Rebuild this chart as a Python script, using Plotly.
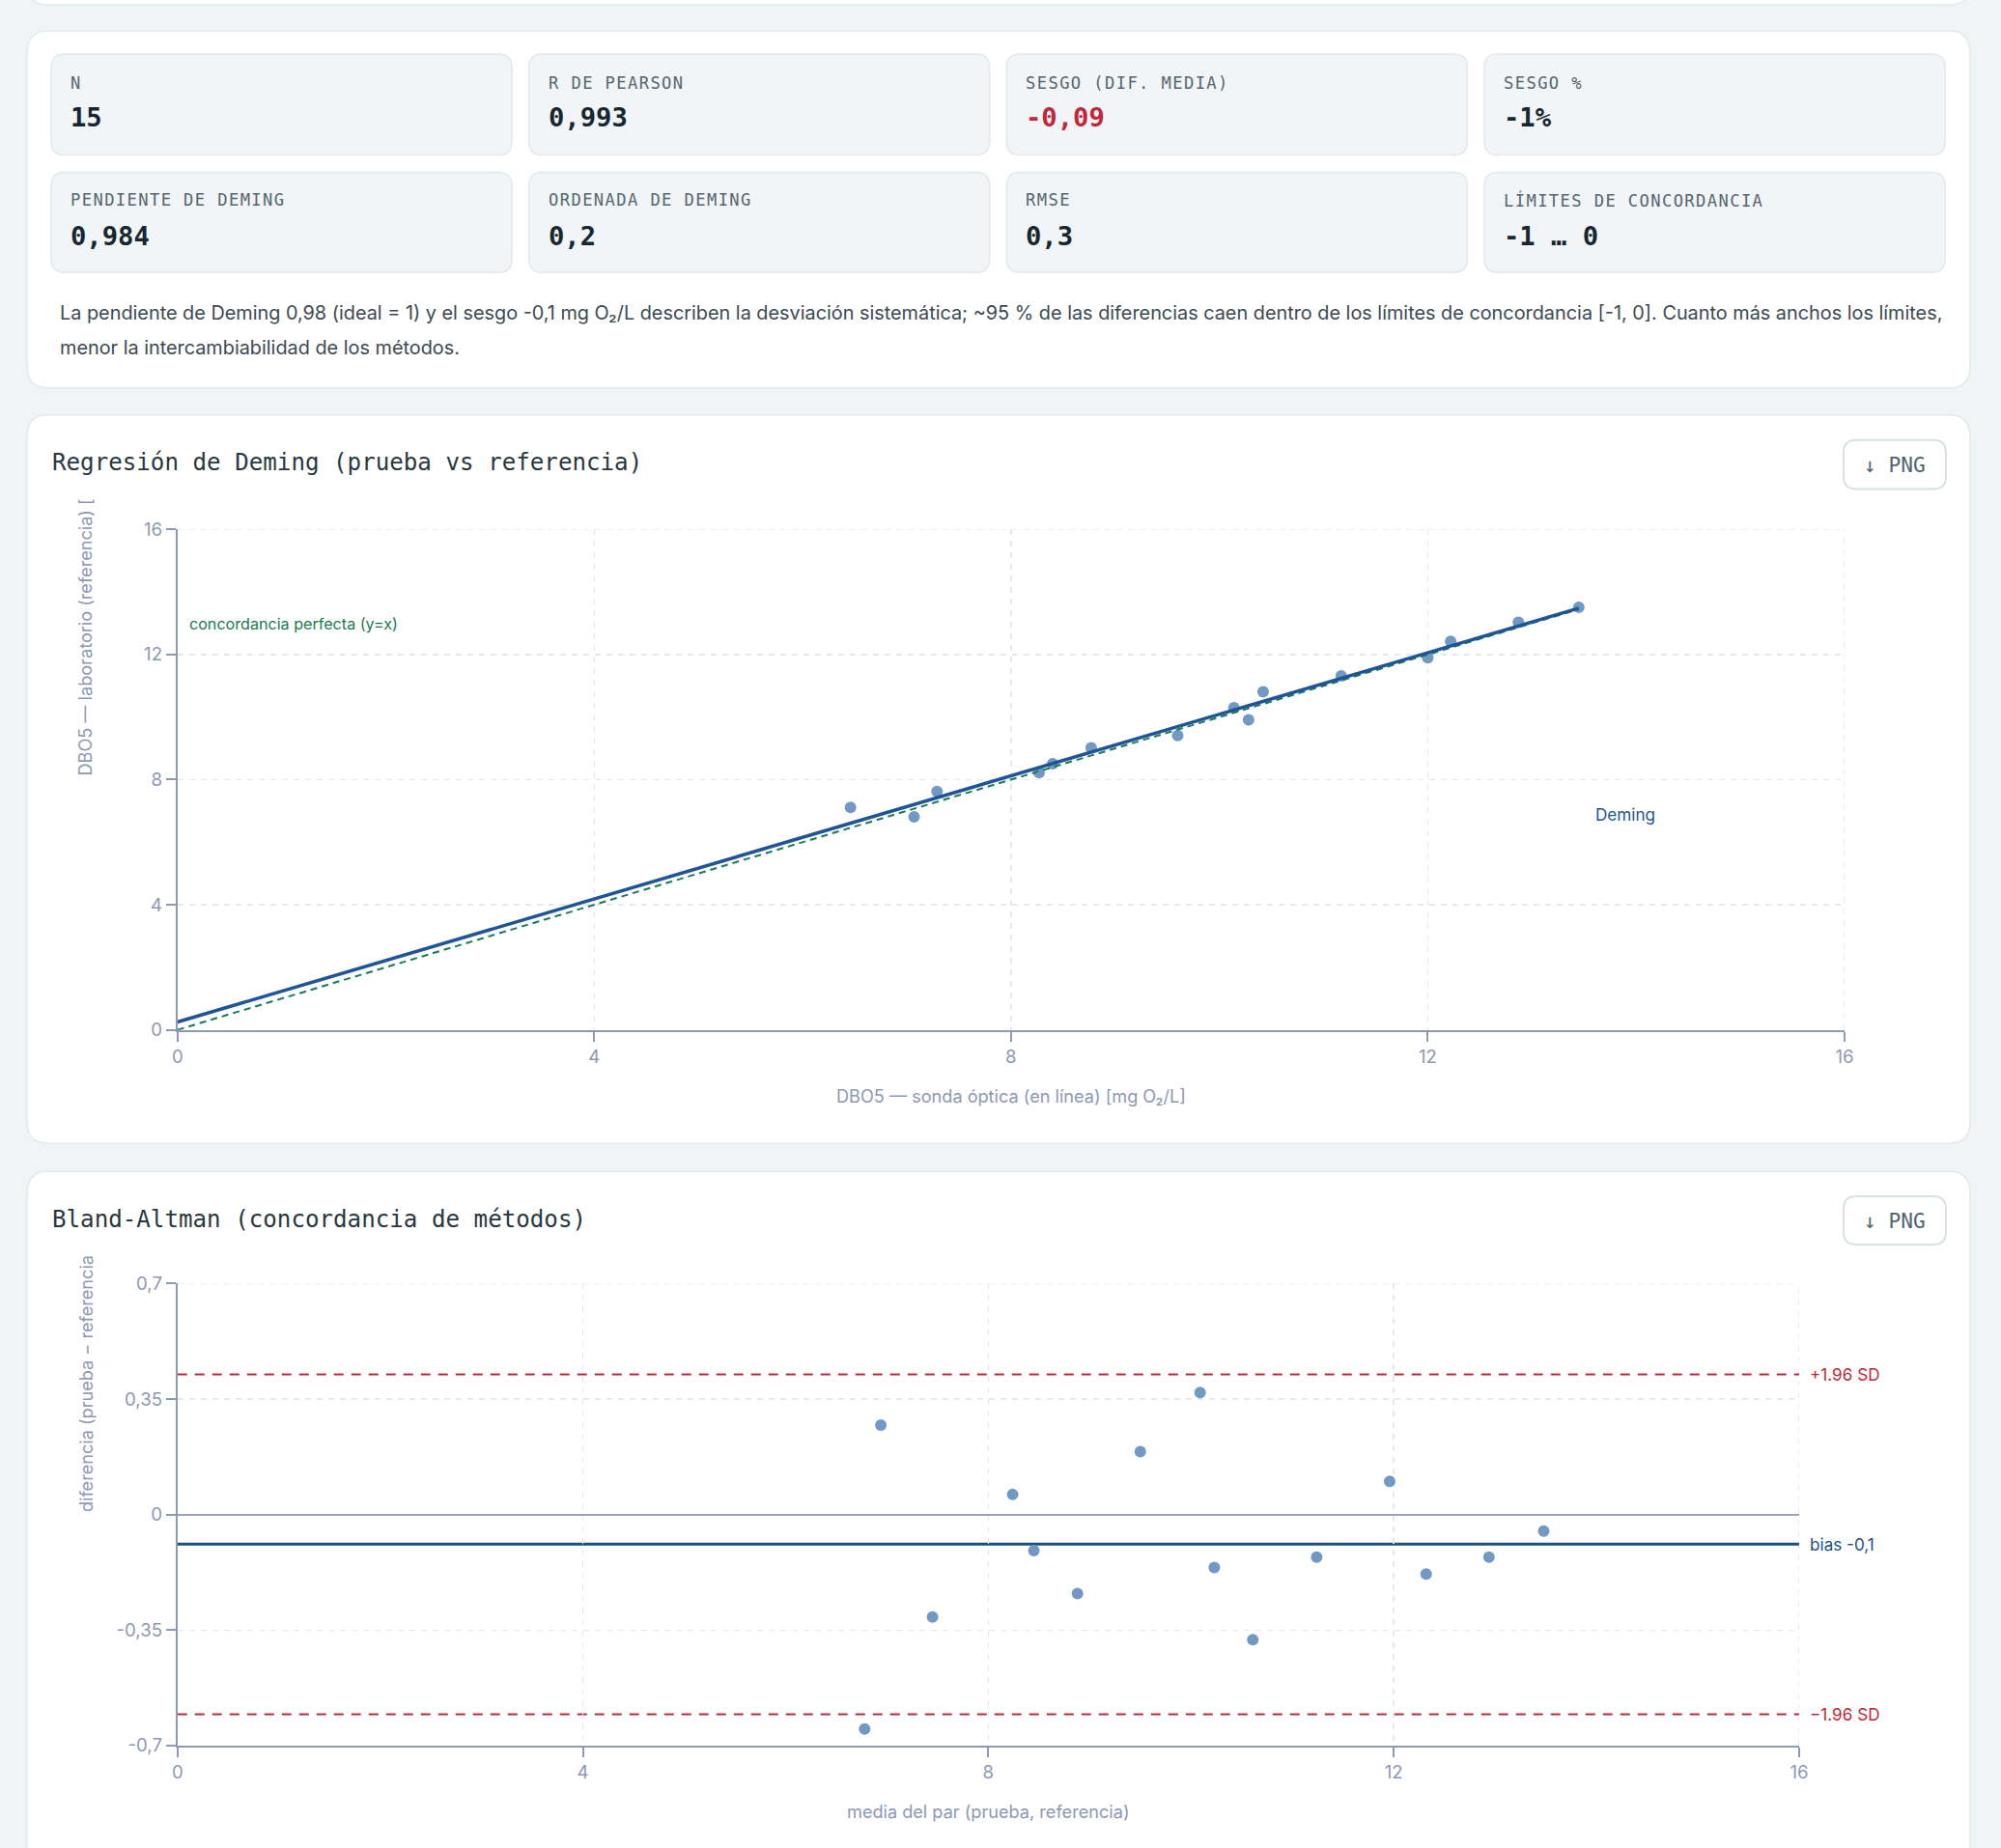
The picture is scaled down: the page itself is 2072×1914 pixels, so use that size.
import plotly.graph_objects as go

# ---------------- data ----------------
kpi_labels = ["N", "R DE PEARSON", "SESGO (DIF. MEDIA)", "SESGO %",
              "PENDIENTE DE DEMING", "ORDENADA DE DEMING", "RMSE", "LÍMITES DE CONCORDANCIA"]
kpi_values = ["15", "0,993", "-0,09", "-1%", "0,984", "0,2", "0,3", "-1 … 0"]
kpi_highlight = [False, False, True, False, False, False, False, False]

summary_lines = [
    "La pendiente de Deming 0,98 (ideal = 1) y el sesgo -0,1 mg O₂/L describen la desviación sistemática; ~95 % de las diferencias caen dentro de los límites de concordancia [-1, 0]. Cuanto más anchos los límites,",
    "menor la intercambiabilidad de los métodos.",
]

# Deming scatter: prueba (sonda óptica) vs referencia (laboratorio)
prueba = [6.46, 7.07, 7.29, 8.27, 8.40, 8.77, 9.60, 10.14, 10.28, 10.42, 11.17, 12.00, 12.22, 12.87, 13.45]
referencia = [7.11, 6.81, 7.62, 8.22, 8.51, 9.02, 9.41, 10.30, 9.91, 10.81, 11.32, 11.90, 12.42, 13.03, 13.51]
deming_slope = 0.984
deming_intercept = 0.25

# Bland-Altman
ba_mean = [6.78, 6.94, 7.45, 8.24, 8.45, 8.88, 9.50, 10.23, 10.09, 10.61, 11.24, 11.96, 12.32, 12.94, 13.48]
ba_diff = [-0.650, 0.271, -0.310, 0.061, -0.109, -0.239, 0.191, -0.160, 0.370, -0.379, -0.129, 0.101, -0.180, -0.129, -0.050]
ba_bias = -0.089
ba_loa_upper = 0.425
ba_loa_lower = -0.605

xy_ticks = [0, 4, 8, 12, 16]
xy_ticktext = ["0", "4", "8", "12", "16"]
ba_yticks = [-0.7, -0.35, 0, 0.35, 0.7]
ba_yticktext = ["-0,7", "-0,35", "0", "0,35", "0,7"]

title_deming = "Regresión de Deming (prueba vs referencia)"
title_ba = "Bland-Altman (concordancia de métodos)"
xlab_deming = "DBO5 — sonda óptica (en línea) [mg O₂/L]"
ylab_deming = "DBO5 — laboratorio (referencia) ["
xlab_ba = "media del par (prueba, referencia)"
ylab_ba = "diferencia (prueba − referencia"

# ---------------- styling ----------------
W, H = 2072, 1914
BODY_MARGIN = 8
SX = W / (W + 2 * BODY_MARGIN)   # page (with default body margin) is fitted back into W x H
SY = H / (H + 2 * BODY_MARGIN)
FS = 1 / SX                       # font compensation

PAGE_BG = "#f0f4f5"
CARD_BORDER = "#e3e9eb"
TILE_BG = "#f1f5f7"
TILE_BORDER = "#e2e8eb"
MONO = "DejaVu Sans Mono"
SANS = "Inter"
AXIS_C = "#8e9ab4"
TICK_C = "#8d98b5"
GRID_C = "#e4e7f2"
DOT_C = "#7299c4"
DEMING_C = "#1f5596"
GREEN_C = "#1a7a50"
RED_C = "#c0283a"
BIAS_C = "#1d4f86"


def X(px):
    return (px / SX - BODY_MARGIN) / W


def Y(py):
    return 1 - (py / SY - BODY_MARGIN) / H


def rrect(x0, y0, x1, y1, r):
    return (f"M {X(x0 + r)},{Y(y0)} L {X(x1 - r)},{Y(y0)} Q {X(x1)},{Y(y0)} {X(x1)},{Y(y0 + r)} "
            f"L {X(x1)},{Y(y1 - r)} Q {X(x1)},{Y(y1)} {X(x1 - r)},{Y(y1)} "
            f"L {X(x0 + r)},{Y(y1)} Q {X(x0)},{Y(y1)} {X(x0)},{Y(y1 - r)} "
            f"L {X(x0)},{Y(y0 + r)} Q {X(x0)},{Y(y0)} {X(x0 + r)},{Y(y0)} Z")


shapes = []
annotations = []


def card(x0, y0, x1, y1, r, fill, border, bw=1.5):
    shapes.append(dict(type="path", path=rrect(x0, y0, x1, y1, r), xref="paper", yref="paper",
                       fillcolor=fill, line=dict(color=border, width=bw), layer="below"))


def text(x, y, s, size, color, family=SANS, xanchor="left", yanchor="middle", weight=None, angle=0):
    f = dict(family=family, size=size * FS, color=color)
    if weight:
        f["weight"] = weight
    annotations.append(dict(x=X(x), y=Y(y), xref="paper", yref="paper", text=s, showarrow=False,
                            xanchor=xanchor, yanchor=yanchor, font=f, textangle=angle))


# page cards
card(30, -60, 2042, 2, 22, "white", CARD_BORDER)
card(30, 29, 2042, 400, 22, "white", CARD_BORDER)
card(30, 428, 2042, 1185, 22, "white", CARD_BORDER)
card(30, 1214, 2042, 2000, 22, "white", CARD_BORDER)

# KPI tiles
tile_w, tile_step = 477, 494.7
rows = [(53, 158, 83, 119), (176, 280, 205, 242)]
for i, (lab, val, hl) in enumerate(zip(kpi_labels, kpi_values, kpi_highlight)):
    r, c = divmod(i, 4)
    y0, y1, ly, vy = rows[r]
    x0 = 55 + c * tile_step
    card(x0, y0, x0 + tile_w, y1, 14, TILE_BG, TILE_BORDER)
    text(x0 + 18, ly, f'<span style="letter-spacing:1.4px">{lab}</span>', 17, "#56666f", family=MONO)
    text(x0 + 18, vy, val, 27, RED_C if hl else "#17262f", family=MONO, weight="bold")

# summary paragraph
text(62, 322, summary_lines[0], 19.7, "#3c4952")
text(62, 358, summary_lines[1], 19.7, "#3c4952")

# chart card titles and PNG buttons
text(54, 477, title_deming, 24, "#2a3740", family=MONO)
text(54, 1264, title_ba, 24, "#2a3740", family=MONO)
for (by0, by1) in [(454, 505), (1240, 1290)]:
    card(1911, by0, 2017, by1, 13, "white", "#d8e1e4", bw=2)
    text(1964, (by0 + by1) / 2, "↓ PNG", 21, "#50636f", family=MONO, xanchor="center")

# axis titles
text(1049, 1136, xlab_deming, 18, TICK_C, xanchor="center")
text(90, 805.5, ylab_deming, 18, TICK_C, xanchor="center", yanchor="bottom", angle=-90)
text(1025, 1879, xlab_ba, 18, TICK_C, xanchor="center")
text(91, 1570, ylab_ba, 18, TICK_C, xanchor="center", yanchor="bottom", angle=-90)

# chart labels
text(195.6, 645, "concordancia perfecta (y=x)", 16, GREEN_C)
text(1652, 843, "Deming", 17, DEMING_C)

# ---------------- figure ----------------
fig = go.Figure()

fig.add_trace(go.Scatter(x=prueba, y=referencia, mode="markers", xaxis="x", yaxis="y",
                         marker=dict(size=12, color=DOT_C), showlegend=False, hoverinfo="skip"))
x_end = max(prueba)
fig.add_trace(go.Scatter(x=[0, x_end], y=[0, x_end], mode="lines", xaxis="x", yaxis="y",
                         line=dict(color=GREEN_C, width=2, dash="7px,5px"), showlegend=False))
fig.add_trace(go.Scatter(x=[0, x_end], y=[deming_intercept, deming_intercept + deming_slope * x_end],
                         mode="lines", xaxis="x", yaxis="y",
                         line=dict(color=DEMING_C, width=3.5), showlegend=False))

fig.add_trace(go.Scatter(x=ba_mean, y=ba_diff, mode="markers", xaxis="x2", yaxis="y2",
                         marker=dict(size=12, color=DOT_C), showlegend=False, hoverinfo="skip"))

# frame dashed lines (grid at range end)
for xr, yr, yv in [("x", "y", 16), ("x2", "y2", 0.7)]:
    shapes.append(dict(type="line", xref=f"{xr} domain", yref=yr, x0=0, x1=1, y0=yv, y1=yv,
                       line=dict(color=GRID_C, width=1.5, dash="6px,6px"), layer="below"))
    shapes.append(dict(type="line", xref=xr, yref=f"{yr} domain", x0=16, x1=16, y0=0, y1=1,
                       line=dict(color=GRID_C, width=1.5, dash="6px,6px"), layer="below"))

# BA reference lines
for yv, col, dash, w, lab in [(ba_loa_upper, RED_C, "10px,8px", 2, "+1.96 SD"),
                              (ba_bias, BIAS_C, "solid", 3, "bias -0,1"),
                              (ba_loa_lower, RED_C, "10px,8px", 2, "−1.96 SD")]:
    shapes.append(dict(type="line", xref="x2 domain", yref="y2", x0=0, x1=1, y0=yv, y1=yv,
                       line=dict(color=col, width=w, dash=dash), layer="below"))
    annotations.append(dict(xref="x2 domain", yref="y2", x=1, y=yv, xanchor="left", yanchor="middle",
                            xshift=9 * FS, text=lab, showarrow=False,
                            font=dict(family=SANS, size=17 * FS, color=col)))

axis_common = dict(showline=True, linecolor=AXIS_C, linewidth=2, ticks="outside", ticklen=10,
                   tickwidth=2, tickcolor=AXIS_C, showgrid=True, gridcolor=GRID_C, gridwidth=1.5,
                   griddash="6px,6px", zeroline=False,
                   tickfont=dict(family=SANS, size=18.5 * FS, color=TICK_C), fixedrange=True)

fig.update_layout(
    width=W, height=H, autosize=False,
    margin=dict(l=0, r=0, t=0, b=0, pad=0),
    paper_bgcolor=PAGE_BG, plot_bgcolor="rgba(0,0,0,0)",
    xaxis=dict(domain=[X(185.7), X(1912)], range=[0, 16], anchor="y", tickmode="array",
               tickvals=xy_ticks, ticktext=xy_ticktext, **axis_common),
    yaxis=dict(domain=[Y(1067), Y(547)], range=[0, 16], anchor="x", tickmode="array",
               tickvals=xy_ticks, ticktext=xy_ticktext, **axis_common),
    xaxis2=dict(domain=[X(185.7), X(1865)], range=[0, 16], anchor="y2", tickmode="array",
                tickvals=xy_ticks, ticktext=xy_ticktext, **axis_common),
    yaxis2=dict(domain=[Y(1810.7), Y(1330.7)], range=[-0.7, 0.7], anchor="x2", tickmode="array",
                tickvals=ba_yticks, ticktext=ba_yticktext,
                **{**axis_common, "zeroline": True, "zerolinecolor": "#9aa3bd", "zerolinewidth": 2}),
    shapes=shapes,
    annotations=annotations,
    showlegend=False,
)

fig.write_html("out.html", config={"displayModeBar": False, "staticPlot": True})
